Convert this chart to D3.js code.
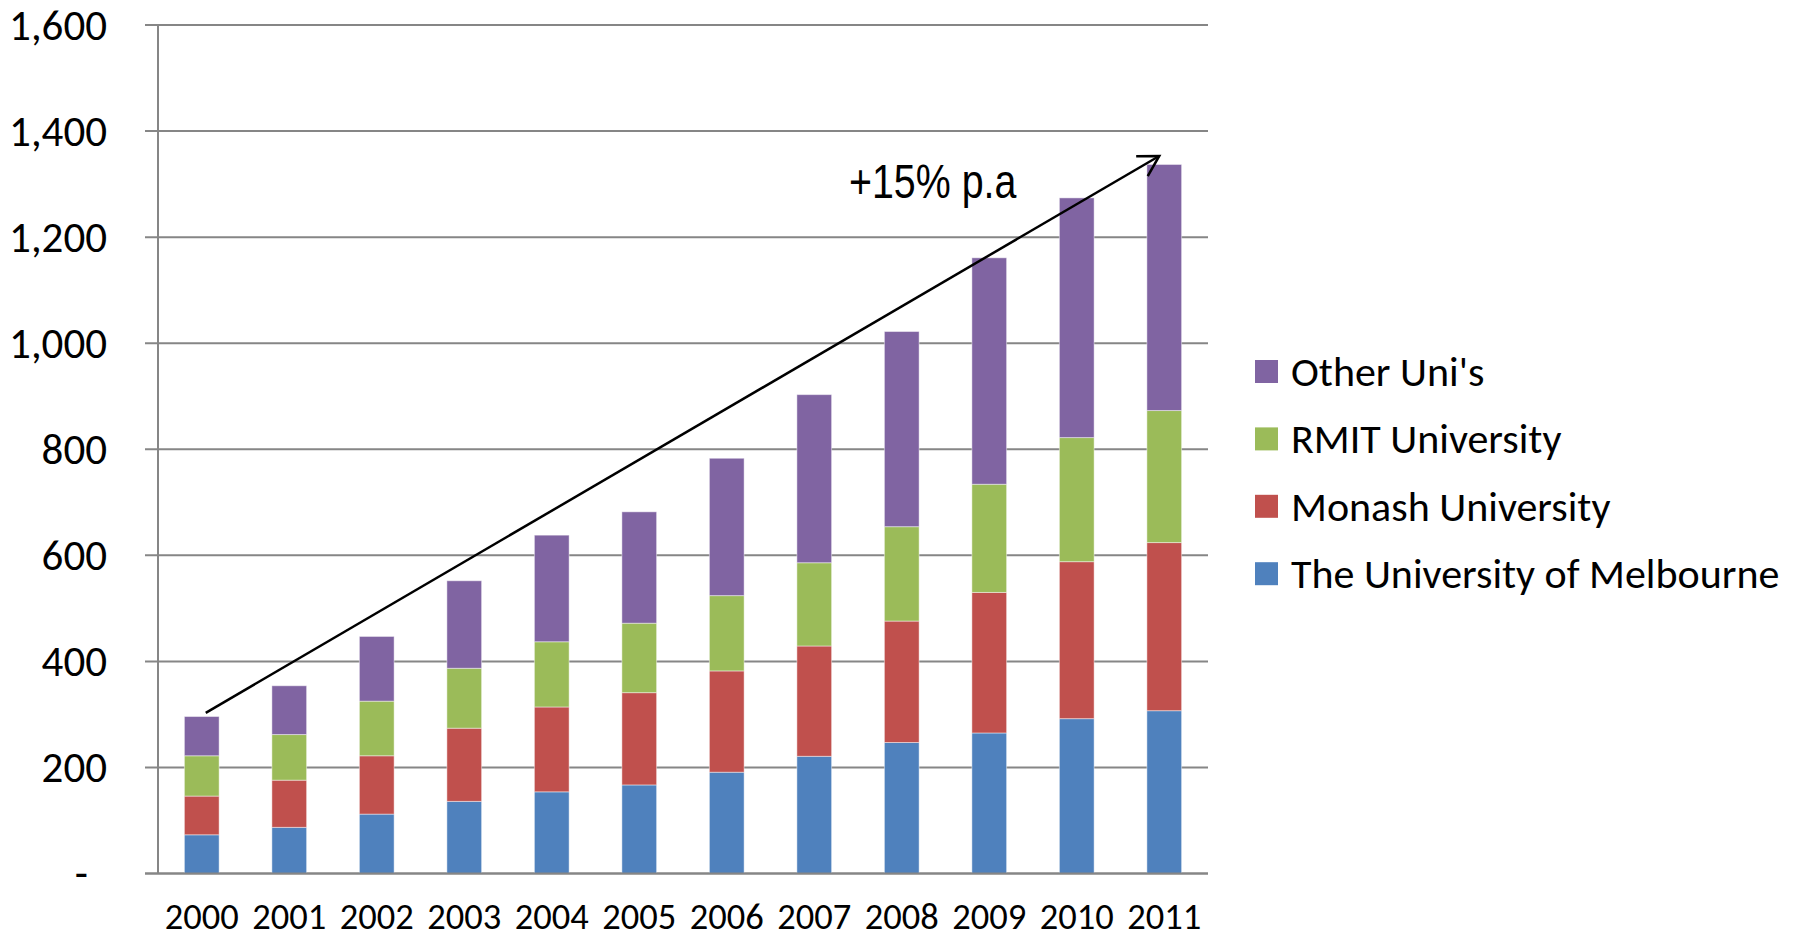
<!DOCTYPE html>
<html>
<head>
<meta charset="utf-8">
<script src="https://cdn.jsdelivr.net/npm/d3@7"></script>
<style>
  body { margin: 0; background: #fff; }
  svg { display: block; font-family: Carlito, Calibri, "Liberation Sans", sans-serif; }
  .grid line { stroke: #868686; stroke-width: 2; }
</style>
</head>
<body>
<div id="chart"></div>
<script>
const years = ['2000', '2001', '2002', '2003', '2004', '2005', '2006', '2007', '2008', '2009', '2010', '2011'];
const seriesNames = ['The University of Melbourne', 'Monash University', 'RMIT University', "Other Uni's"];
const melbourne = [73, 87, 112, 136, 154, 167, 191, 221, 247, 265, 292, 307];
const monash = [73, 89, 110, 138, 160, 174, 191, 208, 229, 265, 296, 317];
const rmit = [76, 86, 103, 113, 123, 131, 142, 157, 178, 204, 234, 249];
const other = [74, 92, 122, 165, 201, 210, 259, 317, 368, 427, 452, 464];
const yTicks = [0, 200, 400, 600, 800, 1000, 1200, 1400, 1600];
const colors = ['#4F81BD', '#C0504D', '#9BBB59', '#8064A2'];
// growth arrow annotation, in data units
const arrowFrom = { year: '2000', value: 303 };
const arrowTo = { year: '2011', value: 1353 };
const arrowLabel = '+15% p.a';

const width = 1802, height = 937;
const plot = { left: 158, right: 1208, top: 25, bottom: 873.5 };

const svg = d3.select('#chart').append('svg')
  .attr('width', width)
  .attr('height', height);

svg.append('rect').attr('width', width).attr('height', height).attr('fill', '#fff');

const x = d3.scaleBand()
  .domain(years)
  .range([plot.left, plot.right])
  .paddingInner(0.603)
  .paddingOuter(0.3015);

const y = d3.scaleLinear()
  .domain([0, 1600])
  .range([plot.bottom, plot.top]);

// gridlines + y tick marks (they stick out left of the axis)
svg.append('g')
  .attr('class', 'grid')
  .selectAll('line')
  .data(yTicks)
  .enter()
  .append('line')
  .attr('x1', plot.left - 13)
  .attr('x2', plot.right)
  .attr('y1', d => y(d))
  .attr('y2', d => y(d));

// y axis line
svg.append('line')
  .attr('x1', plot.left).attr('x2', plot.left)
  .attr('y1', y(1600)).attr('y2', y(0))
  .attr('stroke', '#868686').attr('stroke-width', 2);

// y labels
const fmt = d3.format(',');
svg.append('g')
  .selectAll('text')
  .data(yTicks)
  .enter()
  .append('text')
  .attr('x', d => d === 0 ? 88 : 107)
  .attr('y', d => y(d))
  .attr('dy', '0.34em')
  .attr('text-anchor', 'end')
  .attr('font-size', 43)
  .attr('fill', '#000')
  .text(d => d === 0 ? '-' : fmt(d));

// stacked bars
const rows = years.map((yr, i) => ({ year: yr, m: melbourne[i], mo: monash[i], r: rmit[i], o: other[i] }));
const stack = d3.stack().keys(['m', 'mo', 'r', 'o'])(rows);

svg.append('g')
  .selectAll('g')
  .data(stack)
  .enter()
  .append('g')
  .attr('fill', (d, i) => colors[i])
  .selectAll('rect')
  .data(d => d)
  .enter()
  .append('rect')
  .attr('x', d => x(d.data.year))
  .attr('y', d => y(d[1]))
  .attr('width', x.bandwidth())
  .attr('height', d => y(d[0]) - y(d[1]))
  .attr('stroke', '#ffffff')
  .attr('stroke-opacity', 0.45)
  .attr('stroke-width', 1);

// x axis line (drawn over the bar bottoms)
svg.append('line')
  .attr('x1', plot.left - 13).attr('x2', plot.right)
  .attr('y1', y(0)).attr('y2', y(0))
  .attr('stroke', '#868686').attr('stroke-width', 2);

// x labels
svg.append('g')
  .selectAll('text')
  .data(years)
  .enter()
  .append('text')
  .attr('x', d => x(d) + x.bandwidth() / 2)
  .attr('y', 929)
  .attr('text-anchor', 'middle')
  .attr('font-size', 36.5)
  .attr('fill', '#000')
  .text(d => d);

// growth arrow
svg.append('defs').append('marker')
  .attr('id', 'head')
  .attr('markerUnits', 'userSpaceOnUse')
  .attr('viewBox', '-24 -14 28 28')
  .attr('refX', 0).attr('refY', 0)
  .attr('markerWidth', 28).attr('markerHeight', 28)
  .attr('orient', 'auto')
  .append('path')
  .attr('d', 'M-20,-11.5 L0,0 L-20,11.5')
  .attr('fill', 'none')
  .attr('stroke', '#000')
  .attr('stroke-width', 2.5);

svg.append('line')
  .attr('x1', x(arrowFrom.year) + x.bandwidth() / 2 + 4)
  .attr('y1', y(arrowFrom.value))
  .attr('x2', x(arrowTo.year) + x.bandwidth() / 2 - 5)
  .attr('y2', y(arrowTo.value))
  .attr('stroke', '#000')
  .attr('stroke-width', 2.5)
  .attr('marker-end', 'url(#head)');

svg.append('text')
  .attr('transform', 'translate(849, 197.5) scale(0.82, 1)')
  .attr('font-family', '"Liberation Sans", Arial, sans-serif')
  .attr('font-size', 48)
  .attr('fill', '#000')
  .text(arrowLabel);

// legend (top entry = last series)
const legend = svg.append('g').attr('transform', 'translate(1255, 371.5)');
const legendItems = seriesNames.map((name, i) => ({ name, color: colors[i] })).reverse();

const item = legend.selectAll('g')
  .data(legendItems)
  .enter()
  .append('g')
  .attr('transform', (d, i) => `translate(0, ${i * 67.4})`);

item.append('rect')
  .attr('x', 0).attr('y', -11.5)
  .attr('width', 23).attr('height', 23)
  .attr('fill', d => d.color);

item.append('text')
  .attr('x', 36)
  .attr('y', 0)
  .attr('dy', '0.34em')
  .attr('font-size', 42)
  .attr('fill', '#000')
  .text(d => d.name);
</script>
</body>
</html>
